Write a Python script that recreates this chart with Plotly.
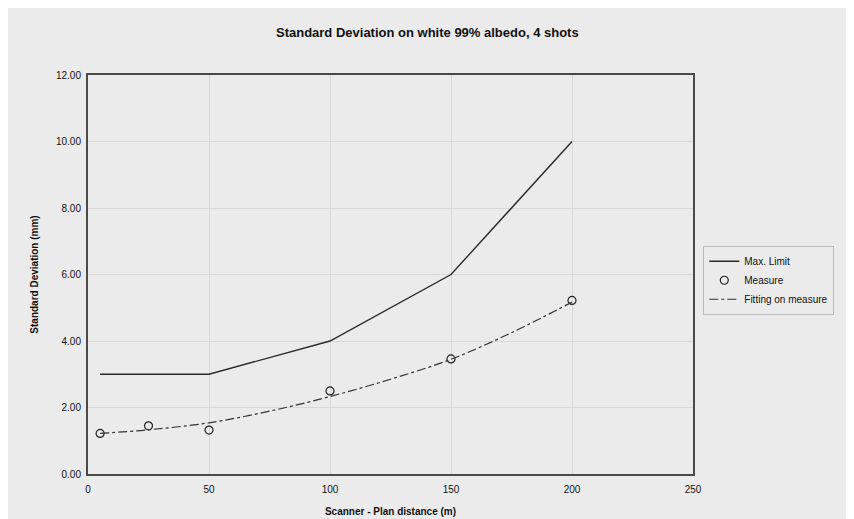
import plotly.graph_objects as go

# Data
limit_x = [5, 50, 100, 150, 200]
limit_y = [3.0, 3.0, 4.0, 6.0, 10.0]

measure_x = [5, 25, 50, 100, 150, 200]
measure_y = [1.22, 1.45, 1.32, 2.50, 3.46, 5.22]

fit_x = [5, 25, 50, 75, 100, 125, 150, 175, 200]
fit_y = [1.22, 1.33, 1.54, 1.89, 2.33, 2.85, 3.45, 4.25, 5.17]

x_ticks = [0, 50, 100, 150, 200, 250]
y_ticks = [0, 2, 4, 6, 8, 10, 12]

BG = "#ebebeb"
FONT = "Liberation Sans, Arial, sans-serif"

fig = go.Figure()
fig.add_trace(go.Scatter(x=limit_x, y=limit_y, mode="lines", name="Max. Limit",
                         line=dict(color="#2a2a2a", width=1.4)))
fig.add_trace(go.Scatter(x=measure_x, y=measure_y, mode="markers", name="Measure",
                         marker=dict(symbol="circle-open", size=8,
                                     line=dict(color="#222222", width=1.2), color="#222222")))
fig.add_trace(go.Scatter(x=fit_x, y=fit_y, mode="lines", name="Fitting on measure",
                         line=dict(color="#333333", width=1.2, dash="dashdot", shape="spline")))

fig.update_layout(
    width=854, height=519,
    paper_bgcolor=BG, plot_bgcolor=BG,
    margin=dict(l=80, r=169, t=67, b=53),
    font=dict(family=FONT, size=10, color="#111111"),
    title=dict(text="<b>Standard Deviation on white 99% albedo, 4 shots</b>",
               x=0.491, xanchor="center", y=1 - 24 / 519, yanchor="middle",
               font=dict(size=13, family=FONT, color="#111111")),
    legend=dict(x=1.017, xanchor="left", y=0.572, yanchor="top",
                bgcolor=BG, bordercolor="#bbbbbb", borderwidth=1,
                font=dict(size=10, family=FONT), tracegroupgap=0, itemwidth=30),
    showlegend=True,
)
fig.update_xaxes(range=[0, 250], tickvals=x_ticks, ticktext=[str(v) for v in x_ticks],
                 showgrid=True, gridcolor="#d8d8d8", gridwidth=1,
                 showline=True, linecolor="#4a4a4a", linewidth=2, mirror=True,
                 zeroline=False, ticks="", ticklabelstandoff=5,
                 title=dict(text="<b>Scanner - Plan distance (m)</b>", standoff=14,
                            font=dict(size=10, family=FONT)))
fig.update_yaxes(range=[0, 12], tickvals=y_ticks, ticktext=[f"{v:.2f}" for v in y_ticks],
                 showgrid=True, gridcolor="#d8d8d8", gridwidth=1,
                 showline=True, linecolor="#4a4a4a", linewidth=2, mirror=True,
                 zeroline=False, ticks="", ticklabelstandoff=3,
                 title=dict(text="<b>Standard Deviation (mm)</b>", standoff=15,
                            font=dict(size=10, family=FONT)))

fig.write_html("out.html")
